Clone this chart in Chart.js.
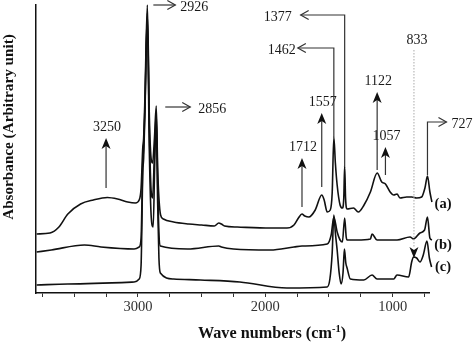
<!DOCTYPE html>
<html>
<head>
<meta charset="utf-8">
<script src="https://cdn.jsdelivr.net/npm/chart.js@4.4.1/dist/chart.umd.min.js"></script>
<style>
  html, body { margin: 0; padding: 0; background: #fff; }
  #wrap { width: 474px; height: 344px; }
</style>
</head>
<body>
<div id="wrap"><canvas id="irChart"></canvas></div>
<script>
// FTIR spectra (a), (b), (c) -- absorbance in arbitrary units, curves stacked
const waveA = [3795, 3690, 3620, 3550, 3450, 3350, 3240, 3160, 3080, 3020, 2990, 2975, 2962, 2955, 2945, 2926, 2910, 2895, 2885, 2870, 2856, 2845, 2835, 2822, 2800, 2720, 2600, 2500, 2400, 2365, 2345, 2320, 2220, 1960, 1830, 1775, 1740, 1712, 1690, 1658, 1608, 1557, 1538, 1514, 1490, 1475, 1462, 1450, 1436, 1413, 1395, 1384, 1377, 1370, 1358, 1308, 1270, 1225, 1175, 1122, 1086, 1057, 1020, 992, 966, 943, 890, 850, 812, 773, 747, 727, 708, 692];
const absA  = [0.59, 0.60, 0.66, 0.79, 0.89, 0.93, 0.955, 0.94, 0.91, 0.90, 0.93, 1.05, 1.45, 1.55, 1.95, 2.88, 1.75, 1.33, 1.30, 1.55, 1.87, 1.25, 0.95, 0.78, 0.74, 0.71, 0.69, 0.68, 0.67, 0.70, 0.69, 0.67, 0.66, 0.65, 0.65, 0.68, 0.75, 0.79, 0.77, 0.76, 0.83, 0.98, 0.93, 0.81, 0.83, 1.00, 1.56, 1.30, 1.08, 0.88, 0.85, 0.95, 1.27, 0.95, 0.84, 0.85, 0.81, 0.88, 1.01, 1.20, 1.11, 1.09, 1.01, 0.98, 0.99, 0.95, 0.96, 0.96, 0.95, 0.96, 1.05, 1.17, 1.01, 0.91];

const waveB = [3795, 3680, 3420, 3290, 3030, 2990, 2975, 2962, 2955, 2945, 2926, 2910, 2895, 2885, 2870, 2856, 2845, 2835, 2824, 2610, 2365, 2345, 2250, 1960, 1775, 1712, 1514, 1483, 1462, 1436, 1413, 1395, 1377, 1365, 1358, 1280, 1175, 1162, 1123, 966, 864, 836, 786, 750, 727, 708, 692];
const absB  = [0.41, 0.43, 0.48, 0.46, 0.44, 0.46, 0.55, 1.30, 1.45, 1.85, 2.80, 1.60, 1.00, 0.95, 1.40, 1.80, 1.10, 0.60, 0.47, 0.44, 0.47, 0.46, 0.44, 0.43, 0.46, 0.47, 0.49, 0.58, 0.76, 0.61, 0.53, 0.51, 0.75, 0.56, 0.53, 0.53, 0.54, 0.59, 0.53, 0.53, 0.56, 0.54, 0.60, 0.63, 0.76, 0.55, 0.53];

const waveC = [3795, 3550, 3030, 2990, 2975, 2962, 2955, 2945, 2926, 2910, 2895, 2880, 2868, 2856, 2845, 2835, 2824, 2720, 2510, 2200, 1830, 1514, 1493, 1475, 1462, 1450, 1436, 1420, 1405, 1390, 1379, 1368, 1358, 1332, 1227, 1162, 1123, 992, 966, 875, 851, 837, 812, 786, 760, 731, 712, 695];
const absC  = [0.08, 0.09, 0.11, 0.14, 0.28, 1.20, 1.35, 1.80, 2.75, 1.40, 0.75, 0.66, 1.30, 1.75, 0.90, 0.35, 0.20, 0.14, 0.13, 0.11, 0.05, 0.06, 0.14, 0.40, 0.78, 0.60, 0.43, 0.20, 0.09, 0.20, 0.44, 0.30, 0.25, 0.14, 0.13, 0.18, 0.14, 0.14, 0.18, 0.16, 0.31, 0.36, 0.35, 0.31, 0.38, 0.52, 0.35, 0.26];

const seriesNames = ['(a)', '(b)', '(c)'];
const nameLevels = [0.89, 0.48, 0.26];

// x axis ticks every 250 cm-1, labelled every 1000
const tickValues = [3750, 3500, 3250, 3000, 2750, 2500, 2250, 2000, 1750, 1500, 1250, 1000, 750];
const tickLabels = ['3000', '2000', '1000'];

// band assignments
const upBands = [3250, 1712, 1557, 1122, 1057];
const upTail  = [1.05, 0.86, 1.06, 1.23, 1.18];
const upTip   = [1.55, 1.35, 1.80, 2.01, 1.46];

const sideBands = [2926, 2856];
const sideLevel = [2.88, 1.86];

const elbowBands = [1377, 1462, 727];
const elbowBase  = [1.27, 1.56, 1.18];
const elbowTop   = [2.78, 2.45, 1.71];

const markBand = 833;
const markTop = 2.43, markEnd = 0.45, markTip = 0.35;

const toPoints = (xs, ys) => xs.map((x, i) => ({ x, y: ys[i] }));

const serif = "'Liberation Serif', 'Times New Roman', serif";
const ink = '#111';

function openHead(ctx, x, y, dx, dy) {
  // dx, dy: unit direction the arrow points to
  const len = 8, half = 4.5;
  ctx.beginPath();
  ctx.moveTo(x - dx * len - dy * half, y - dy * len + dx * half);
  ctx.lineTo(x, y);
  ctx.lineTo(x - dx * len + dy * half, y - dy * len - dx * half);
  ctx.stroke();
}

function solidHead(ctx, x, y, dir) {
  // dir = -1 points up, 1 points down
  ctx.beginPath();
  ctx.moveTo(x, y);
  ctx.lineTo(x - 4.5, y - dir * 11);
  ctx.lineTo(x, y - dir * 8);
  ctx.lineTo(x + 4.5, y - dir * 11);
  ctx.closePath();
  ctx.fill();
}

const bandNotes = {
  id: 'bandNotes',
  afterDatasetsDraw(chart) {
    const { ctx, chartArea: area, scales: { x, y } } = chart;
    ctx.save();
    ctx.font = '14px ' + serif;
    ctx.fillStyle = '#1a1a1a';
    ctx.strokeStyle = '#333';
    ctx.lineWidth = 1.2;
    ctx.textBaseline = 'middle';

    // vertical arrows with solid heads
    upBands.forEach((b, i) => {
      const px = x.getPixelForValue(b);
      const y0 = y.getPixelForValue(upTail[i]);
      const y1 = y.getPixelForValue(upTip[i]);
      ctx.beginPath();
      ctx.moveTo(px, y0);
      ctx.lineTo(px, y1 + 6);
      ctx.stroke();
      ctx.fillStyle = '#111';
      solidHead(ctx, px, y1, -1);
      ctx.fillStyle = '#1a1a1a';
      ctx.textAlign = 'center';
      ctx.fillText(String(b), px + 1, y1 - 11);
    });

    // horizontal arrows beside the C-H peaks
    const sideGap = [[6, 28, 33], [9, 34, 42]];
    sideBands.forEach((b, i) => {
      const px = x.getPixelForValue(b);
      const py = y.getPixelForValue(sideLevel[i]);
      const [g0, g1, gt] = sideGap[i];
      ctx.beginPath();
      ctx.moveTo(px + g0, py);
      ctx.lineTo(px + g1, py);
      ctx.stroke();
      openHead(ctx, px + g1, py, 1, 0);
      ctx.textAlign = 'left';
      ctx.fillText(String(b), px + gt, py + 2);
    });

    // elbow arrows
    const elbowRun = [-44, -36, 19];
    const elbowText = [-9, -2, 5];
    elbowBands.forEach((b, i) => {
      const px = x.getPixelForValue(b);
      const yb = y.getPixelForValue(elbowBase[i]);
      const yt = y.getPixelForValue(elbowTop[i]);
      const run = elbowRun[i];
      const dir = Math.sign(run);
      ctx.beginPath();
      ctx.moveTo(px, yb);
      ctx.lineTo(px, yt);
      ctx.lineTo(px + run, yt);
      ctx.stroke();
      openHead(ctx, px + run, yt, dir, 0);
      ctx.textAlign = dir < 0 ? 'right' : 'left';
      ctx.fillText(String(b), px + run + dir * Math.abs(elbowText[i]), yt + 2);
    });

    // dotted marker down to the 833 band of (c)
    const mx = x.getPixelForValue(markBand);
    ctx.save();
    ctx.strokeStyle = '#aaa';
    ctx.lineWidth = 1;
    ctx.setLineDash([1.5, 1.5]);
    ctx.beginPath();
    ctx.moveTo(mx, y.getPixelForValue(markTop));
    ctx.lineTo(mx, y.getPixelForValue(markEnd));
    ctx.stroke();
    ctx.restore();
    ctx.fillStyle = '#111';
    solidHead(ctx, mx, y.getPixelForValue(markTip), 1);
    ctx.fillStyle = '#1a1a1a';
    ctx.textAlign = 'center';
    ctx.fillText(String(markBand), mx + 3, y.getPixelForValue(markTop) - 10);

    // series names
    ctx.font = 'bold 14.5px ' + serif;
    ctx.fillStyle = ink;
    ctx.textAlign = 'center';
    seriesNames.forEach((n, i) => {
      ctx.fillText(n, area.right + 14, y.getPixelForValue(nameLevels[i]));
    });

    // axis titles
    ctx.save();
    ctx.translate(9, 127);
    ctx.rotate(-Math.PI / 2);
    ctx.font = 'bold 15.2px ' + serif;
    ctx.fillText('Absorbance (Arbitrary unit)', 0, 0);
    ctx.restore();

    const big = 'bold 16.2px ' + serif, small = 'bold 10.5px ' + serif;
    const p1 = 'Wave numbers (cm', sup = '-1', p2 = ')';
    ctx.font = big;
    const w1 = ctx.measureText(p1).width;
    const w2 = ctx.measureText(p2).width;
    ctx.font = small;
    const ws = ctx.measureText(sup).width;
    let tx = 272 - (w1 + ws + w2) / 2;
    const ty = 334;
    ctx.textAlign = 'left';
    ctx.font = big;
    ctx.fillText(p1, tx, ty);
    tx += w1;
    ctx.font = small;
    ctx.fillText(sup, tx, ty - 5);
    tx += ws;
    ctx.font = big;
    ctx.fillText(p2, tx, ty);
    ctx.restore();
  }
};

const lineStyle = {
  borderColor: ink,
  borderWidth: 1.6,
  pointRadius: 0,
  fill: false,
  cubicInterpolationMode: 'monotone',
  clip: false
};

new Chart(document.getElementById('irChart'), {
  type: 'line',
  data: {
    datasets: [
      { label: seriesNames[0], data: toPoints(waveA, absA), ...lineStyle },
      { label: seriesNames[1], data: toPoints(waveB, absB), ...lineStyle },
      { label: seriesNames[2], data: toPoints(waveC, absC), ...lineStyle }
    ]
  },
  options: {
    responsive: true,
    maintainAspectRatio: false,
    animation: false,
    layout: { padding: { left: 36, right: 45, top: 5, bottom: 0 } },
    plugins: { legend: { display: false }, tooltip: { enabled: false } },
    scales: {
      x: {
        type: 'linear',
        reverse: true,
        min: 715,
        max: 3800,
        afterBuildTicks: s => { s.ticks = tickValues.map(v => ({ value: v })); },
        afterFit: s => { s.height = 51; },
        ticks: {
          autoSkip: false,
          maxRotation: 0,
          padding: 1,
          color: '#333',
          font: { family: serif, size: 14.5 },
          callback: v => (tickLabels.includes(String(v)) ? String(v) : '')
        },
        grid: { drawOnChartArea: false, drawTicks: true, tickLength: 4, color: '#333', lineWidth: 1 },
        border: { display: true, color: ink, width: 1.5 }
      },
      y: {
        min: 0,
        max: 2.88,
        afterFit: s => { s.width = 0; },
        ticks: { display: false },
        grid: { display: false },
        border: { display: true, color: ink, width: 1.5 }
      }
    }
  },
  plugins: [bandNotes]
});
</script>
</body>
</html>
